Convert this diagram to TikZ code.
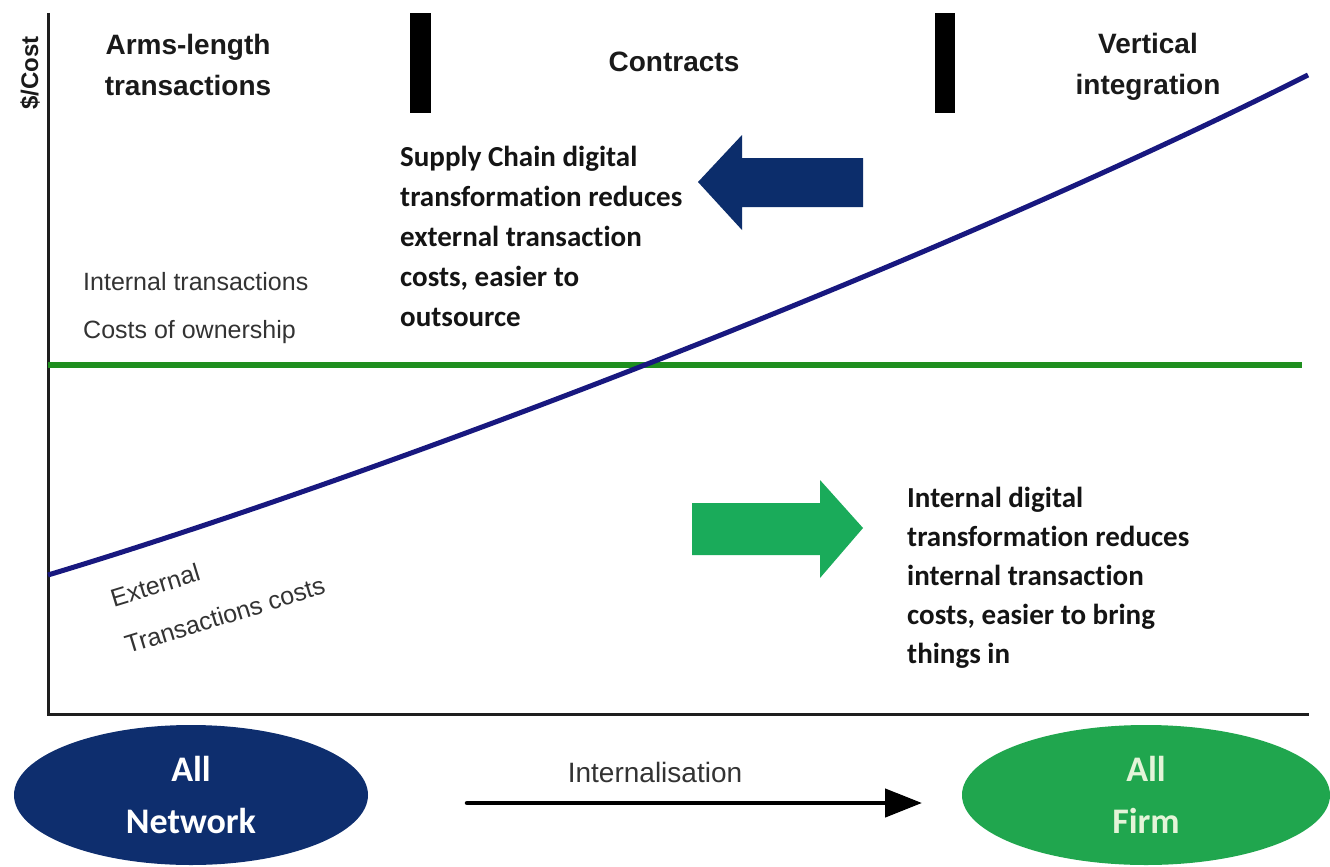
\documentclass[tikz,border=0pt]{standalone}
\usepackage{fontspec}
\setmainfont{Liberation Sans}
\newfontfamily\calibri[Ligatures=NoCommon]{Carlito}
\usetikzlibrary{arrows.meta,shapes.geometric}
\definecolor{navyarrow}{HTML}{0C2D6B}
\definecolor{navyell}{HTML}{0E2E6E}
\definecolor{curveblue}{HTML}{18187F}
\definecolor{greenline}{HTML}{1F8F1F}
\definecolor{greenarrow}{HTML}{1AAB5A}
\definecolor{greenell}{HTML}{20A64E}
\definecolor{firmtext}{HTML}{E4F4D8}
\definecolor{headcol}{HTML}{1A1A1A}
\definecolor{lblcol}{HTML}{333333}
\definecolor{axiscol}{HTML}{1E1E1E}
\begin{document}
\begin{tikzpicture}[x=1pt,y=-1pt,
  head/.style={font=\fontsize{28}{40}\selectfont\bfseries, text=headcol, align=center, inner sep=0pt},
  lbl/.style={font=\fontsize{25}{30}\selectfont, text=lblcol, inner sep=0pt},
  note/.style={font=\calibri\fontsize{29}{40}\selectfont\bfseries, text=black!92, align=left, inner sep=0pt},
  ell/.style={ellipse, minimum width=354pt, minimum height=140pt, inner sep=0pt, align=center,
              font=\calibri\fontsize{36}{52}\selectfont\bfseries},
  axisline/.style={draw=axiscol, line width=3pt},
  bar/.style={fill=black}
]
\useasboundingbox (0,0) rectangle (1330,867);
\fill[white] (0,0) rectangle (1330,867);

% axes
\coordinate (ytop) at (48,13);
\coordinate (origin) at (48,714);
\coordinate (xend) at (1309,714);
\draw[axisline] (ytop) -- (origin) -- (xend);
\node[rotate=90, font=\fontsize{24}{28}\selectfont\bfseries, text=headcol, inner sep=0pt] (ylab) at (30,73) {\$/Cost};

% headings and separators (anchor=base = baseline of last line)
\node[head, anchor=base] (arms) at (188,95) {Arms-length\\transactions};
\node[head, anchor=base] (contracts) at (674,71) {Contracts};
\node[head, anchor=base] (vert) at (1148,94) {Vertical\\integration};
\fill[bar] (410,13) rectangle (431,113);
\fill[bar] (935,13) rectangle (955,113);

% cost lines
\draw[greenline, line width=6pt] (48,365) -- (1302,365);
\draw[curveblue, line width=5pt] (48,575) .. controls (380,475) and (930,265) .. (1308,75);

% labels
\node[lbl, anchor=base west] (int1) at (83,290) {Internal transactions};
\node[lbl, anchor=base west] (int2) at (83,338) {Costs of ownership};
\node[lbl, font=\fontsize{25}{49}\selectfont, align=left, rotate=17, anchor=base west] (ext) at (128,654) {External\\Transactions costs};

% big arrows
\fill[navyarrow] (698,182) -- (742,135) -- (742,158) -- (863,158) -- (863,207) -- (742,207) -- (742,230) -- cycle;
\fill[greenarrow] (863,528) -- (820,480) -- (820,503) -- (692,503) -- (692,555) -- (820,555) -- (820,578) -- cycle;

% notes
\node[note, anchor=base west] (sc) at (400,326) {Supply Chain digital\\transformation reduces\\external transaction\\costs, easier to\\outsource};
\node[note, font=\calibri\fontsize{29}{39}\selectfont\bfseries, anchor=base west] (idt) at (907,663) {Internal digital\\transformation reduces\\internal transaction\\costs, easier to bring\\things in};

% ellipses
\node[ell, fill=navyell, text=white] (net) at (191,795) {All\\Network};
\node[ell, fill=greenell, text=firmtext, minimum width=368pt] (firm) at (1146,795) {All\\Firm};

% internalisation
\node[lbl, font=\fontsize{28}{32}\selectfont, anchor=base] (intz) at (655,782) {Internalisation};
\coordinate (iStart) at (467,803);
\coordinate (iEnd) at (922,803);
\draw[line width=4.5pt, line cap=round, -{Triangle[length=37pt,width=28pt]}] (iStart) -- (iEnd);
\end{tikzpicture}
\end{document}
